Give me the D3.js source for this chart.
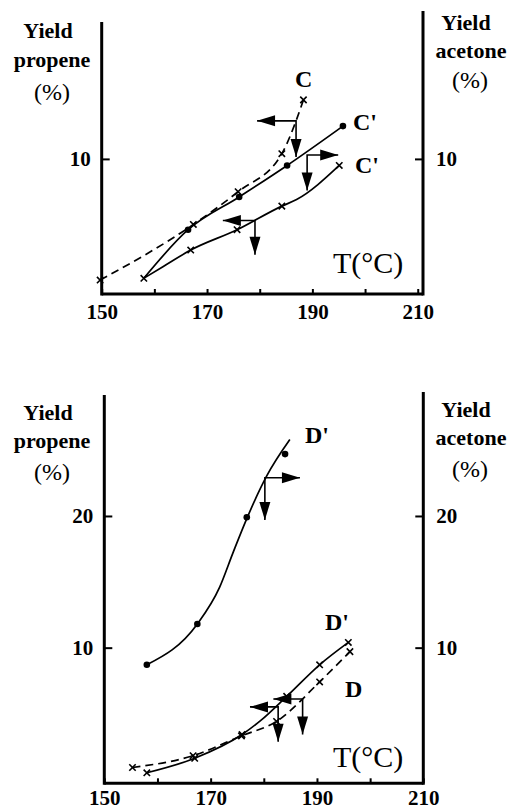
<!DOCTYPE html>
<html><head><meta charset="utf-8">
<script src="https://cdn.jsdelivr.net/npm/d3@7"></script>
<style>body{margin:0;background:#fff}svg{display:block}</style>
</head><body><svg id="c" width="510" height="810"></svg>
<script>
// ---------- data ----------
const xTicks = [150, 160, 170, 180, 190, 200, 210];
const xTickLabels = ["150", "", "170", "", "190", "", "210"];
const yTicksTop = [10];
const yTicksBottom = [10, 20];

// Panel C (top)
const cDashedCurve = [[149.7, 0.76], [167.4, 5.0], [175.9, 7.5], [184.2, 10.4], [186.9, 12.9], [188.3, 14.5]];
const cDashedMarks = [[149.7, 0.76], [167.4, 5.0], [175.9, 7.5], [184.2, 10.4], [188.3, 14.5]];
const cPrimeUpperCurve = [[158.0, 0.9], [166.4, 4.6], [176.1, 7.1], [185.2, 9.5], [195.8, 12.5]];
const cPrimeUpperDots = [[166.4, 4.6], [176.1, 7.1], [185.2, 9.5], [195.8, 12.5]];
const cPrimeLowerCurve = [[158.0, 0.9], [161.7, 1.8], [166.9, 3.05], [175.7, 4.6], [184.2, 6.4], [187.0, 6.9], [195.1, 9.5]];
const cPrimeLowerMarks = [[158.0, 0.9], [166.9, 3.05], [175.7, 4.6], [184.2, 6.4], [195.1, 9.5]];
// arrows: [T vertex, yield vertex, T end of horizontal arm, yield end of vertical arm]
const cArrows = [[186.9, 12.9, 179.5, 10.15], [189.0, 10.3, 194.9, 7.6], [179.1, 5.3, 173.0, 2.7]];

// Panel D (bottom)
const dPrimeTopCurve = [[158.0, 8.7], [167.5, 11.8], [171.7, 14.6], [174.2, 17.2], [176.8, 19.8], [180.5, 23.0], [184.9, 25.8]];
const dPrimeTopDots = [[158.0, 8.7], [167.5, 11.8], [176.8, 19.9], [184.0, 24.7]];
const dPrimeLowCurve = [[158.0, 0.5], [167.0, 1.6], [175.9, 3.4], [179.5, 4.5], [184.3, 6.3], [190.5, 8.7], [195.9, 10.4]];
const dPrimeLowMarks = [[158.0, 0.5], [167.0, 1.6], [175.9, 3.4], [184.3, 6.3], [190.5, 8.7], [195.9, 10.4]];
const dDashedCurve = [[155.3, 0.9], [166.7, 1.8], [175.8, 3.3], [182.4, 4.4], [190.5, 7.4], [196.2, 9.7]];
const dDashedMarks = [[155.3, 0.9], [166.7, 1.8], [175.8, 3.3], [182.4, 4.4], [190.5, 7.4], [196.2, 9.7]];
const dArrows = [[180.2, 22.9, 186.8, 19.7], [182.7, 5.5, 177.4, 2.85], [187.3, 6.1, 181.8, 3.4]];

// ---------- drawing ----------
const svg = d3.select("#c");
const FONT = "Liberation Serif, Times New Roman, serif";

function crossPath(s) { return `M${-s},${-s}L${s},${s}M${-s},${s}L${s},${-s}`; }

function arrowHead(g, x, y, dir) {
  const L = 18, w = 5.5;
  let p;
  if (dir === "left") p = [[x, y], [x + L, y - w], [x + L, y + w]];
  else if (dir === "right") p = [[x, y], [x - L, y - w], [x - L, y + w]];
  else p = [[x, y], [x - w, y - L], [x + w, y - L]];
  g.append("path").attr("d", "M" + p.join("L") + "Z").attr("fill", "#000");
}

function drawPanel(o) {
  const g = svg.append("g");
  const x = d3.scaleLinear().domain(o.xDomain).range(o.xRange);
  const y = d3.scaleLinear().domain(o.yDomain).range(o.yRange);
  const line = d3.line().x(d => x(d[0])).y(d => y(d[1])).curve(d3.curveMonotoneX);

  // axis lines
  const x0 = o.xRange[0], x1 = o.xRange[1], yb = o.yRange[0];
  g.append("line").attr("x1", x0).attr("x2", x0).attr("y1", yb + 1.5).attr("y2", o.leftTop).attr("stroke", "#000").attr("stroke-width", 3);
  g.append("line").attr("x1", x1).attr("x2", x1).attr("y1", yb + 1.5).attr("y2", o.rightTop).attr("stroke", "#000").attr("stroke-width", 3);
  g.append("line").attr("x1", x0).attr("x2", x1).attr("y1", yb).attr("y2", yb).attr("stroke", "#000").attr("stroke-width", 3);

  const styleAxis = sel => {
    sel.select(".domain").remove();
    sel.selectAll(".tick line").attr("stroke-width", 2);
    sel.selectAll("text").attr("font-family", FONT).attr("font-weight", "bold").attr("font-size", 21).attr("fill", "#000");
  };
  g.append("g").attr("transform", `translate(0,${yb})`)
    .call(d3.axisBottom(x).tickValues(xTicks).tickSize(-5).tickPadding(o.xPad).tickFormat((d, i) => xTickLabels[i]))
    .call(styleAxis);
  g.append("g").attr("transform", `translate(${x0},0)`)
    .call(d3.axisLeft(y).tickValues(o.yTicks).tickSize(-8).tickPadding(11).tickFormat(d3.format("d")))
    .call(styleAxis);
  g.append("g").attr("transform", `translate(${x1},0)`)
    .call(d3.axisRight(y).tickValues(o.yTicks).tickSize(-8).tickPadding(13).tickFormat(d3.format("d")))
    .call(styleAxis);

  // curves
  o.curves.forEach(c => {
    g.append("path").attr("d", line(c.data)).attr("fill", "none").attr("stroke", "#000")
      .attr("stroke-width", 1.7).attr("stroke-dasharray", c.dashed ? "8,5" : null);
  });
  // markers
  o.crosses.forEach(arr => arr.forEach(d => {
    g.append("path").attr("d", crossPath(3.2)).attr("transform", `translate(${x(d[0])},${y(d[1])})`)
      .attr("stroke", "#000").attr("stroke-width", 1.6).attr("fill", "none");
  }));
  o.dots.forEach(arr => arr.forEach(d => {
    g.append("circle").attr("cx", x(d[0])).attr("cy", y(d[1])).attr("r", 3.3).attr("fill", "#000");
  }));
  // arrows
  o.arrows.forEach(a => {
    const vx = x(a[0]), vy = y(a[1]), hx = x(a[2]), dy = y(a[3]);
    g.append("path").attr("d", `M${hx},${vy}L${vx},${vy}L${vx},${dy}`).attr("fill", "none").attr("stroke", "#000").attr("stroke-width", 1.6);
    arrowHead(g, hx, vy, hx < vx ? "left" : "right");
    arrowHead(g, vx, dy, "down");
  });

  // texts
  const txt = (s, tx, ty, size, weight, anchor) => g.append("text").attr("x", tx).attr("y", ty)
    .attr("font-family", FONT).attr("font-size", size).attr("font-weight", weight)
    .attr("text-anchor", anchor || "middle").attr("fill", "#000").text(s);
  const t = o.texts;
  txt("Yield", 48, t.lY, 22, "bold");
  txt("propene", 52, t.lP, 22, "bold");
  txt("(%)", 52, t.lPc, 24, "normal");
  txt("Yield", 466, t.rY, 22, "bold");
  txt("acetone", 471, t.rA, 22, "bold");
  txt("(%)", 470, t.rPc, 24, "normal");
  txt("T(°C)", 333, t.T, 30, "normal", "start");
  o.labels.forEach(l => txt(l[0], l[1], l[2], 24, "bold", "start"));
}

drawPanel({
  xDomain: [150, 211], xRange: [101.7, 423],
  yDomain: [-0.3, 21.2], yRange: [294, 12],
  leftTop: 22, rightTop: 11, yTicks: yTicksTop, xPad: 10,
  curves: [{ data: cDashedCurve, dashed: true }, { data: cPrimeUpperCurve }, { data: cPrimeLowerCurve }],
  crosses: [cDashedMarks, cPrimeLowerMarks],
  dots: [cPrimeUpperDots],
  arrows: cArrows,
  texts: { lY: 38, lP: 67, lPc: 100, rY: 30, rA: 58, rPc: 88, T: 273 },
  labels: [["C", 295, 87], ["C'", 353, 130], ["C'", 355, 173]]
});

drawPanel({
  xDomain: [150, 210], xRange: [104.3, 423.3],
  yDomain: [-0.3, 29.3], yRange: [783.3, 393.5],
  leftTop: 395, rightTop: 392, yTicks: yTicksBottom, xPad: 7,
  curves: [{ data: dPrimeTopCurve }, { data: dPrimeLowCurve }, { data: dDashedCurve, dashed: true }],
  crosses: [dPrimeLowMarks, dDashedMarks],
  dots: [dPrimeTopDots],
  arrows: dArrows,
  texts: { lY: 420, lP: 448, lPc: 480, rY: 417, rA: 445, rPc: 477, T: 767 },
  labels: [["D'", 305, 443], ["D'", 325, 630], ["D", 345, 697]]
});
</script></body></html>
